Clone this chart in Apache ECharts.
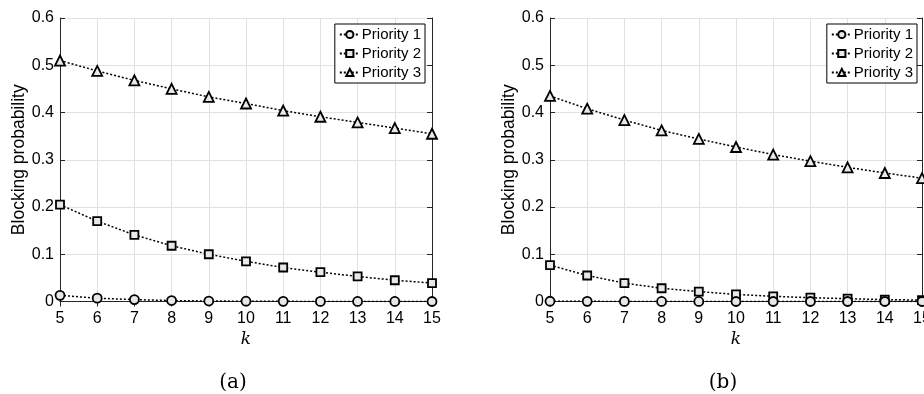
<!DOCTYPE html>
<html>
<head>
<meta charset="utf-8">
<script src="https://cdn.jsdelivr.net/npm/echarts@6/dist/echarts.min.js"></script>
<style>html,body{margin:0;padding:0;background:#fff}#c{width:924px;height:394px}</style>
</head>
<body>
<div id="c"></div>
<script>
var kValues = [5, 6, 7, 8, 9, 10, 11, 12, 13, 14, 15];
var seriesNames = ['Priority 1', 'Priority 2', 'Priority 3'];
var yTicks = [0, 0.1, 0.2, 0.3, 0.4, 0.5, 0.6];
var panelLabels = ['(a)', '(b)'];

// Panel (a)
var a_p1 = [0.013, 0.007, 0.004, 0.002, 0.001, 0.0006, 0.0003, 0.0002, 0.0001, 0.0001, 0.0];
var a_p2 = [0.205, 0.170, 0.141, 0.118, 0.100, 0.085, 0.072, 0.062, 0.053, 0.045, 0.039];
var a_p3 = [0.510, 0.488, 0.468, 0.450, 0.433, 0.419, 0.404, 0.391, 0.379, 0.367, 0.355];
// Panel (b)
var b_p1 = [0.0005, 0.0003, 0.0002, 0.0001, 0.0001, 0.0, 0.0, 0.0, 0.0, 0.0, 0.0];
var b_p2 = [0.077, 0.055, 0.039, 0.028, 0.021, 0.015, 0.011, 0.008, 0.006, 0.004, 0.003];
var b_p3 = [0.435, 0.408, 0.384, 0.362, 0.344, 0.327, 0.311, 0.297, 0.284, 0.272, 0.261];

var panels = [[a_p1, a_p2, a_p3], [b_p1, b_p2, b_p3]];
var symbols = ['circle', 'rect', 'triangle'];
var symbolSizes = [9, 8, 10];

var FONT = 'Liberation Sans, Arial, Helvetica, sans-serif';
var AX = '#262626';
var grids = [
  {left: 60, right: 492, top: 18, bottom: 92.5, outerBoundsMode: 'none', containLabel: false},
  {left: 550, right: 2, top: 18, bottom: 92.5, outerBoundsMode: 'none', containLabel: false}
];

var xAxes = [], yAxes = [], series = [], legends = [], graphics = [];
grids.forEach(function (g, gi) {
  xAxes.push({
    type: 'value', gridIndex: gi, min: 5, max: 15, interval: 1, position: 'bottom',
    name: 'k', nameLocation: 'middle', nameGap: 29,
    nameTextStyle: {fontFamily: 'DejaVu Serif, Liberation Serif, serif', fontStyle: 'italic', fontSize: 17, color: '#000'},
    axisLine: {show: true, lineStyle: {color: AX, width: 1}},
    axisTick: {show: true, inside: true, length: 5, lineStyle: {color: AX}},
    axisLabel: {fontFamily: FONT, fontSize: 16, color: '#000', margin: 9, hideOverlap: false,
      showMinLabel: true, showMaxLabel: true},
    splitLine: {show: true, lineStyle: {color: '#e1e1e1', width: 1}}
  });
  xAxes.push({
    type: 'value', gridIndex: gi, min: 5, max: 15, interval: 1, position: 'top',
    axisLine: {show: true, lineStyle: {color: AX, width: 1}},
    axisTick: {show: true, inside: true, length: 5, lineStyle: {color: AX}},
    axisLabel: {show: false}, splitLine: {show: false}
  });
  yAxes.push({
    type: 'value', gridIndex: gi, min: 0, max: 0.6, interval: 0.1, position: 'left',
    name: 'Blocking probability', nameLocation: 'middle', nameGap: 30,
    nameTextStyle: {fontFamily: FONT, fontSize: 17.5, color: '#000'},
    axisLine: {show: true, lineStyle: {color: AX, width: 1}},
    axisTick: {show: true, inside: true, length: 5, lineStyle: {color: AX}},
    axisLabel: {fontFamily: FONT, fontSize: 16, color: '#000', margin: 6,
      formatter: function (v) { return v === 0 ? '0' : v.toFixed(1); }},
    splitLine: {show: true, lineStyle: {color: '#e1e1e1', width: 1}}
  });
  yAxes.push({
    type: 'value', gridIndex: gi, min: 0, max: 0.6, interval: 0.1, position: 'right',
    axisLine: {show: true, lineStyle: {color: AX, width: 1}},
    axisTick: {show: true, inside: true, length: 5, lineStyle: {color: AX}},
    axisLabel: {show: false}, splitLine: {show: false}
  });
  panels[gi].forEach(function (vals, si) {
    series.push({
      type: 'line', name: seriesNames[si], xAxisIndex: gi * 2, yAxisIndex: gi * 2,
      data: kValues.map(function (k, i) { return [k, vals[i]]; }),
      symbol: symbols[si], symbolSize: symbolSizes[si], showSymbol: true,
      lineStyle: {color: '#000', width: 1.5, type: [2, 2]},
      itemStyle: {color: '#e8e8e8', borderColor: '#000', borderWidth: 1.8},
      z: 3 - si
    });
  });
  var legendRight = gi === 0 ? 924 - 425 : 924 - 917;
  legends.push({
    data: seriesNames, orient: 'vertical', right: legendRight, top: 24,
    backgroundColor: '#fff', borderColor: '#000', borderWidth: 1,
    padding: [3, 4, 3, 4], itemGap: 4, itemWidth: 20, itemHeight: 9,
    textStyle: {fontFamily: FONT, fontSize: 15, color: '#000', padding: [0, 0, 0, -3]},
    selectedMode: false
  });
  var cx = gi === 0 ? 233 : 723;
  graphics.push({
    type: 'text', x: cx, y: 383,
    style: {text: panelLabels[gi], font: '20px "DejaVu Serif", "Liberation Serif", serif', fill: '#000',
      textAlign: 'center', textVerticalAlign: 'middle'}
  });
});

var chart = echarts.init(document.getElementById('c'), null, {renderer: 'canvas'});
chart.setOption({
  animation: false,
  backgroundColor: '#fff',
  grid: grids,
  xAxis: xAxes,
  yAxis: yAxes,
  legend: legends,
  series: series,
  graphic: graphics
});
</script>
</body>
</html>
